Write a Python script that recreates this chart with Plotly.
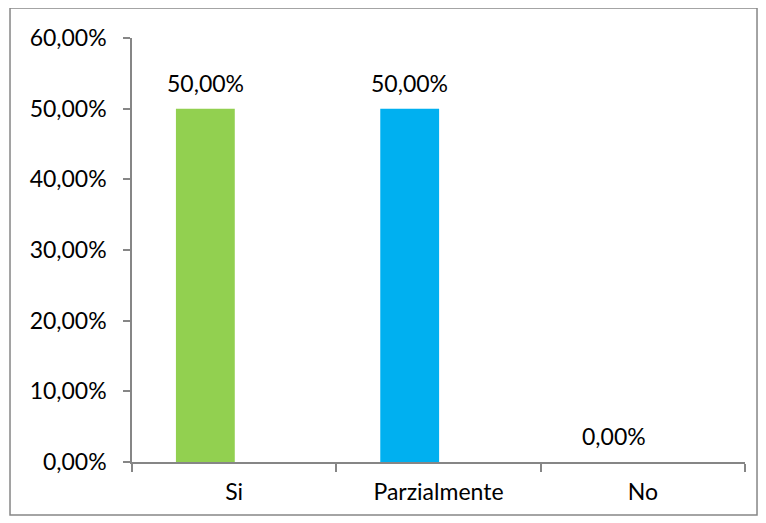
import plotly.graph_objects as go

categories = ["Si", "Parzialmente", "No"]
values = [0.50, 0.50, 0.00]
colors = ["#92D050", "#00B0F0", "#7F7F7F"]
tick_vals = [0, 0.1, 0.2, 0.3, 0.4, 0.5, 0.6]

font_family = "Lato, 'Open Sans', sans-serif"
bar_width = 0.288
bar_offset = -0.285

fig = go.Figure(go.Bar(
    x=categories, y=values,
    marker=dict(color=colors, line=dict(width=0)),
    width=bar_width, offset=bar_offset,
    cliponaxis=False,
    hoverinfo="x+y",
))

for i, v in enumerate(values):
    fig.add_annotation(
        x=i + bar_offset + bar_width / 2, y=v, xref="x", yref="y",
        text=f"{v*100:.2f}%".replace(".", ","),
        showarrow=False, yanchor="bottom", yshift=10,
        font=dict(size=23, color="#000000", family=font_family),
    )

fig.update_layout(
    width=758, height=515,
    margin=dict(l=124, r=21, t=30, b=61),
    paper_bgcolor="white", plot_bgcolor="white",
    separators=",.",
    showlegend=False,
    font=dict(family=font_family, size=23, color="#000000"),
    xaxis=dict(
        showline=True, linecolor="#868686", linewidth=1.5,
        ticks="outside", tickson="boundaries", ticklen=8, tickcolor="#868686",
        tickwidth=1.5, showgrid=False, tickfont=dict(size=23),
        ticklabelstandoff=9,
    ),
    yaxis=dict(
        range=[0, 0.6], tickvals=tick_vals, tickformat=".2%",
        showline=True, linecolor="#868686", linewidth=1.5,
        ticks="outside", ticklen=7, tickcolor="#868686", tickwidth=1.5,
        showgrid=False, zeroline=False, tickfont=dict(size=23),
        ticklabelstandoff=12,
    ),
    shapes=[dict(type="rect", xref="paper", yref="paper",
                 x0=-0.199, x1=1.0196, y0=-0.125, y1=1.0708,
                 line=dict(color="#868686", width=1.5), layer="below")],
)

fig.write_html("out.html")
